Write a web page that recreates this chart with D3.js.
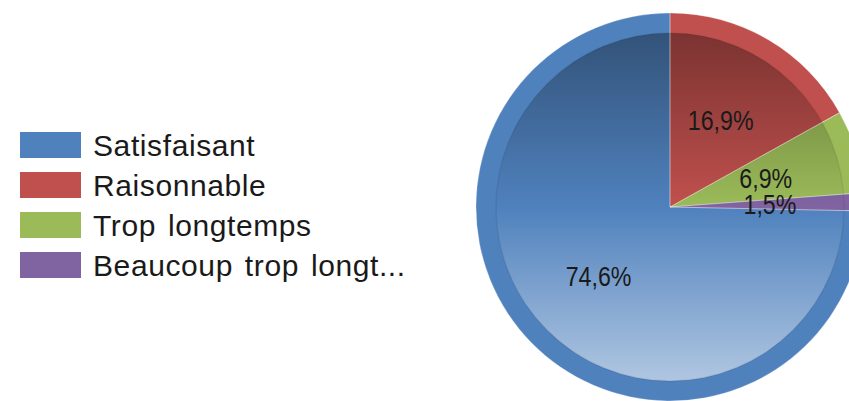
<!DOCTYPE html>
<html>
<head>
<meta charset="utf-8">
<script src="https://cdn.jsdelivr.net/npm/d3@7"></script>
<style>
  html, body { margin: 0; padding: 0; background: #ffffff; }
  svg { display: block; }
</style>
</head>
<body>
<svg id="chart" width="849" height="401"></svg>
<script>
const categories = ["Satisfaisant", "Raisonnable", "Trop longtemps", "Beaucoup trop longt..."];
const values = [74.6, 16.9, 6.9, 1.5];
const labels = ["74,6%", "16,9%", "6,9%", "1,5%"];
const colors = ["#4f81bd", "#c0504d", "#9bbb59", "#8064a2"];

const svg = d3.select("#chart");
const cx = 670, cy = 207, R = 194, Rin = 174, labelR = 100;

const defs = svg.append("defs");
const grad = defs.append("linearGradient")
  .attr("id", "shade").attr("x1", 0).attr("y1", 0).attr("x2", 0).attr("y2", 1);
grad.append("stop").attr("offset", "0%").attr("stop-color", "#000").attr("stop-opacity", 0.36);
grad.append("stop").attr("offset", "50%").attr("stop-color", "#000").attr("stop-opacity", 0);
grad.append("stop").attr("offset", "50%").attr("stop-color", "#fff").attr("stop-opacity", 0);
grad.append("stop").attr("offset", "100%").attr("stop-color", "#fff").attr("stop-opacity", 0.55);

const total = d3.sum(values);
const start = -values[0] / total * 2 * Math.PI;
const pie = d3.pie().sort(null).value(d => d).startAngle(start).endAngle(start + 2 * Math.PI);
const arcs = pie(values);

const g = svg.append("g").attr("transform", `translate(${cx},${cy})`);
const outerArc = d3.arc().innerRadius(0).outerRadius(R);
const innerArc = d3.arc().innerRadius(0).outerRadius(Rin);

g.selectAll("path.outer").data(arcs).join("path")
  .attr("class", "outer")
  .attr("d", outerArc)
  .attr("fill", (d, i) => colors[i]);

g.selectAll("path.inner").data(arcs).join("path")
  .attr("class", "inner")
  .attr("d", innerArc)
  .attr("fill", (d, i) => colors[i]);

g.append("circle").attr("r", Rin).attr("fill", "url(#shade)")
  .attr("stroke", "rgba(0,0,0,0.07)").attr("stroke-width", 1.5);

g.selectAll("path.sep").data(arcs).join("path")
  .attr("class", "sep")
  .attr("d", outerArc)
  .attr("fill", "none")
  .attr("stroke", "rgba(255,255,255,0.35)")
  .attr("stroke-width", 0.8);

const labelArc = d3.arc().innerRadius(labelR).outerRadius(labelR);
g.selectAll("text.lbl").data(arcs).join("text")
  .attr("class", "lbl")
  .attr("transform", d => { const c = labelArc.centroid(d); return `translate(${c[0]},${c[1]}) scale(0.86,1)`; })
  .attr("text-anchor", "middle")
  .attr("dy", "0.34em")
  .attr("font-family", "Liberation Sans, Arial, sans-serif")
  .attr("font-size", 27)
  .attr("fill", "#1a1a1a")
  .text((d, i) => labels[i]);

const leg = svg.append("g").attr("transform", "translate(20,132)");
const rows = leg.selectAll("g").data(categories).join("g")
  .attr("transform", (d, i) => `translate(0,${i * 40})`);
rows.append("rect").attr("width", 61).attr("height", 26)
  .attr("fill", (d, i) => colors[i]);
rows.append("text").attr("x", 73).attr("y", 24)
  .attr("font-family", "Liberation Sans, Arial, sans-serif")
  .attr("font-size", 30)
  .attr("letter-spacing", 0.6)
  .attr("word-spacing", 3)
  .attr("fill", "#1a1a1a")
  .text(d => d);
</script>
</body>
</html>
